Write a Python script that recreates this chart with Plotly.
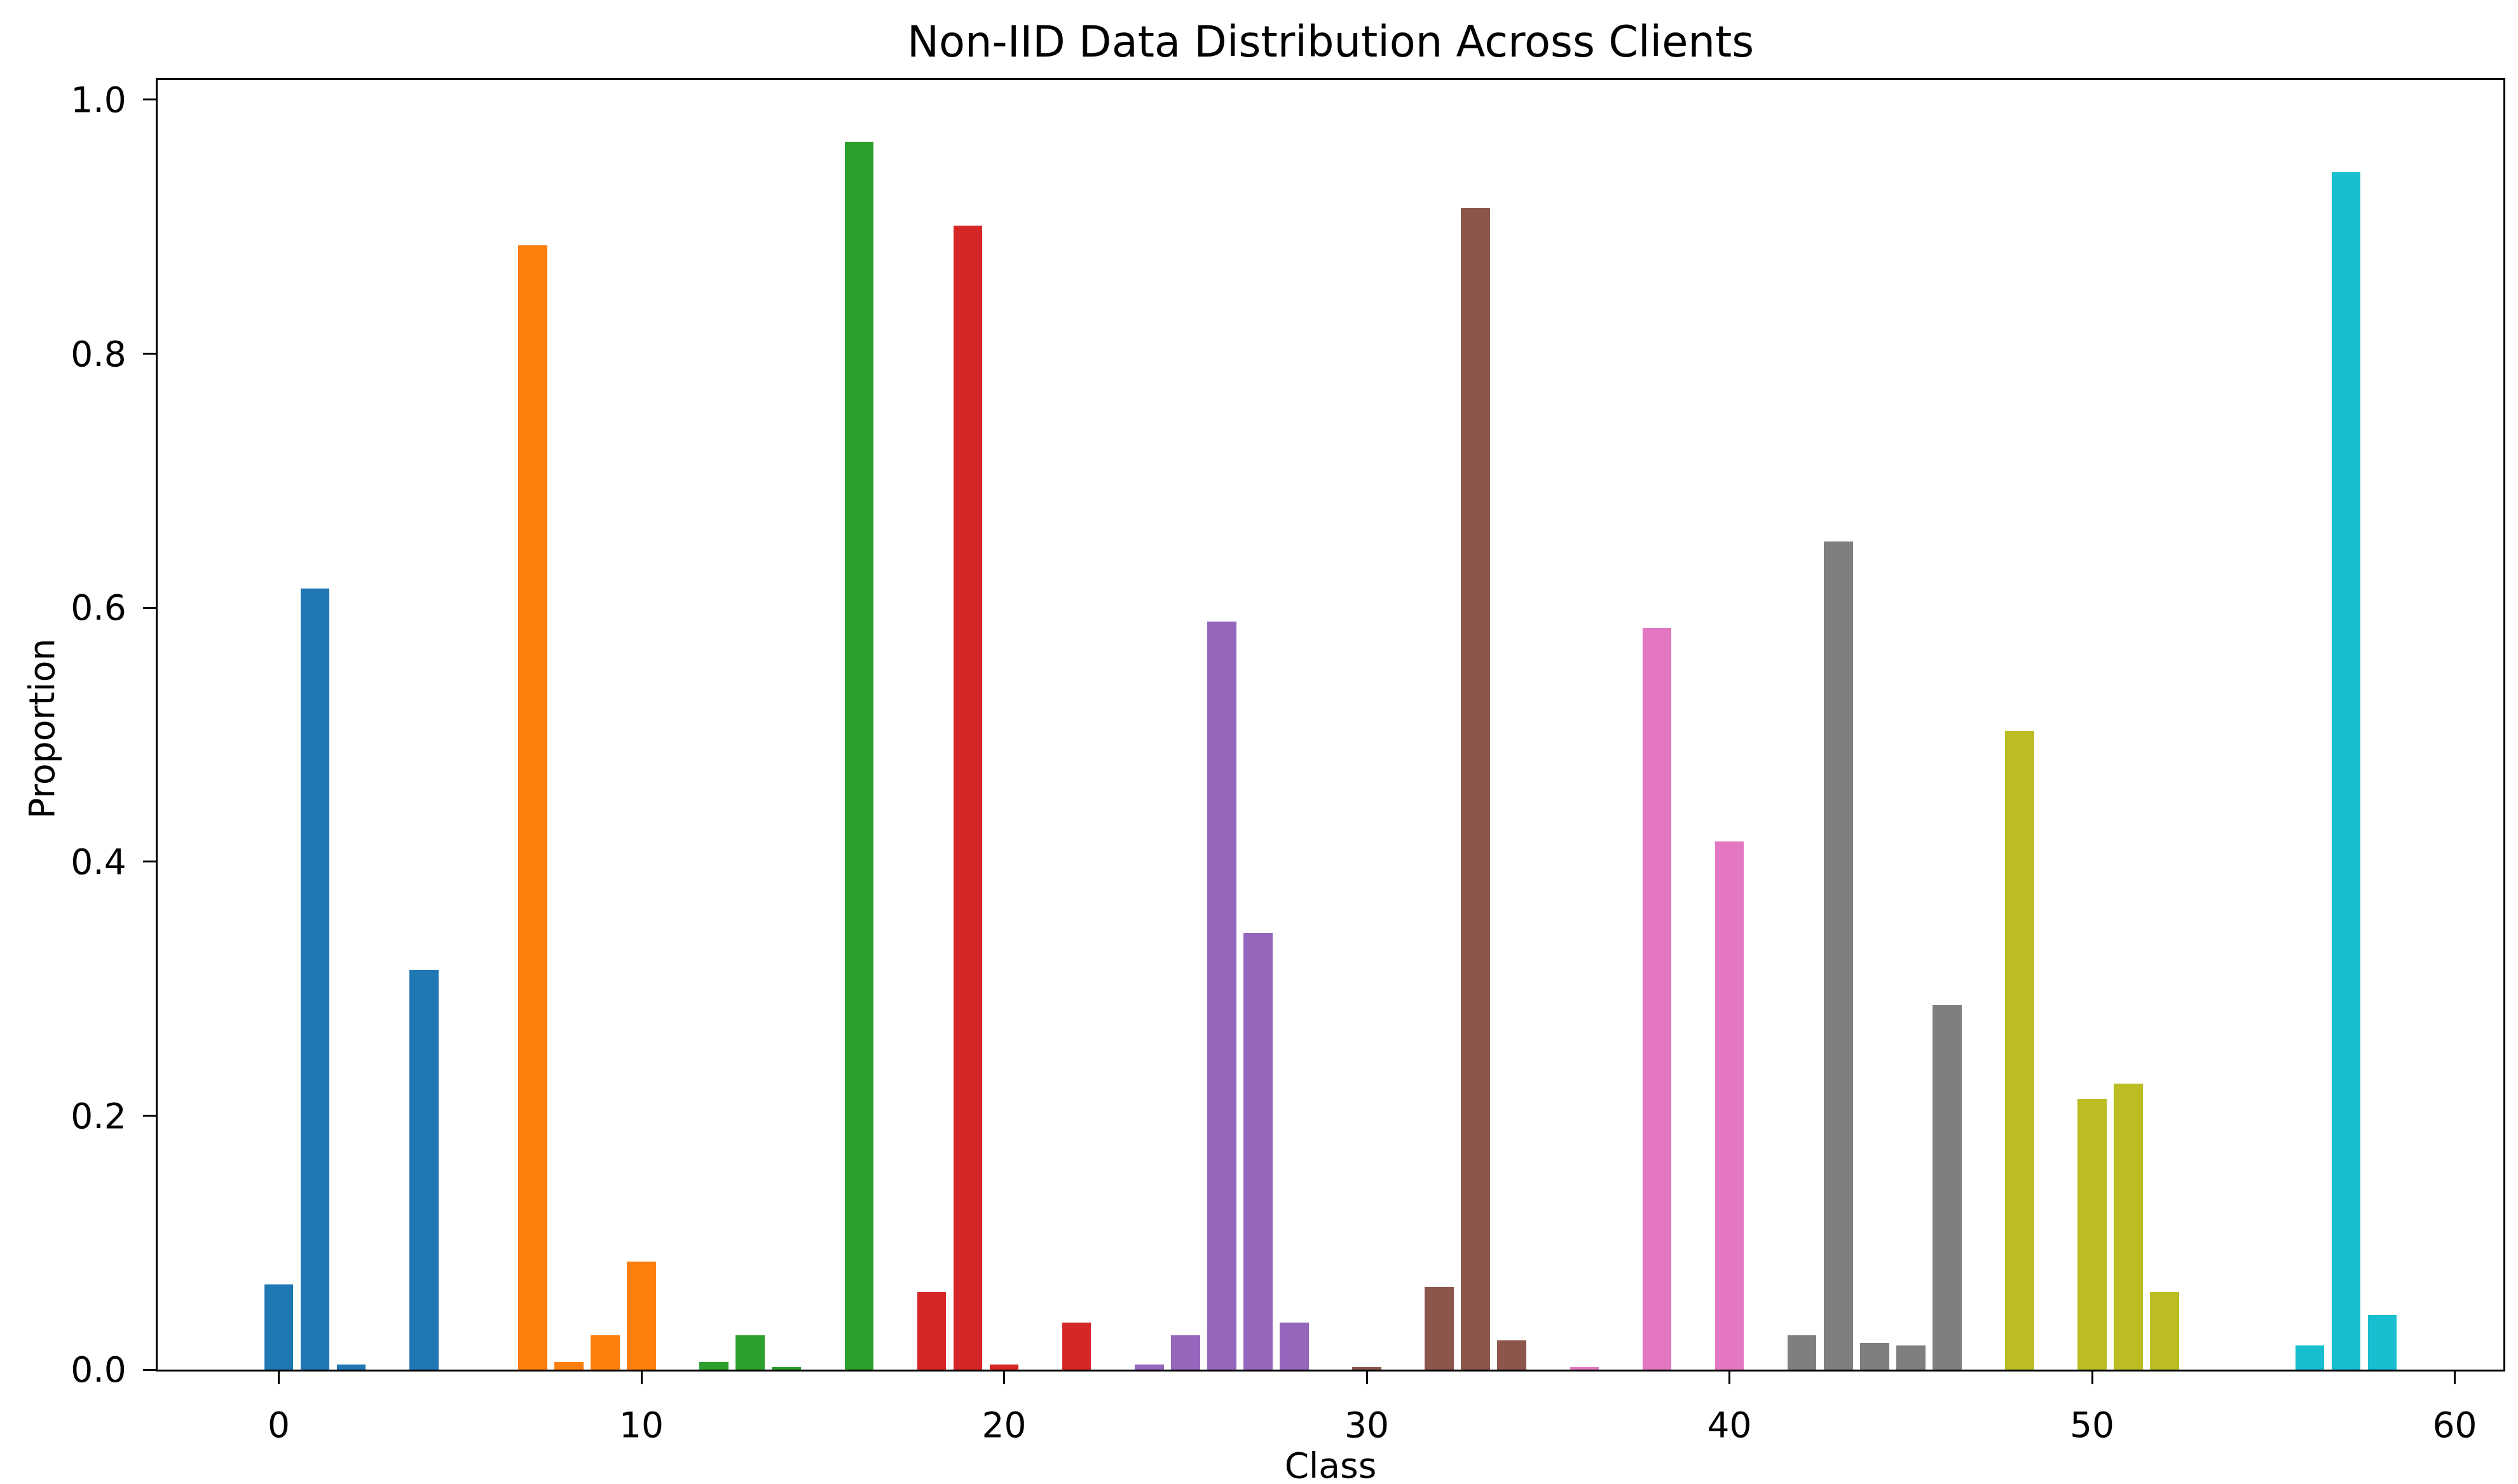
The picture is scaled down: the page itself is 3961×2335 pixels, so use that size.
import plotly.graph_objects as go

# ---- data ----
clients = ["Client 0", "Client 1", "Client 2", "Client 3", "Client 4",
           "Client 5", "Client 6", "Client 7", "Client 8", "Client 9"]
classes_per_client = 6
client_0 = [0.067, 0.615, 0.004, 0.0, 0.315, 0.0]
client_1 = [0.0, 0.885, 0.006, 0.027, 0.085, 0.0]
client_2 = [0.006, 0.027, 0.002, 0.0, 0.967, 0.0]
client_3 = [0.061, 0.901, 0.004, 0.0, 0.037, 0.0]
client_4 = [0.004, 0.027, 0.589, 0.344, 0.037, 0.0]
client_5 = [0.002, 0.0, 0.065, 0.915, 0.023, 0.0]
client_6 = [0.002, 0.0, 0.584, 0.0, 0.416, 0.0]
client_7 = [0.027, 0.652, 0.021, 0.019, 0.287, 0.0]
client_8 = [0.503, 0.0, 0.213, 0.225, 0.061, 0.0]
client_9 = [0.0, 0.0, 0.019, 0.943, 0.043, 0.0]
client_values = [client_0, client_1, client_2, client_3, client_4,
                 client_5, client_6, client_7, client_8, client_9]
x_ticks = [0, 10, 20, 30, 40, 50, 60]
y_ticks = [0.0, 0.2, 0.4, 0.6, 0.8, 1.0]

colors = ["#1f77b4", "#ff7f0e", "#2ca02c", "#d62728", "#9467bd",
          "#8c564b", "#e377c2", "#7f7f7f", "#bcbd22", "#17becf"]

W, H = 3961, 2335
L, R, T, B = 240, 31, 118, 188
FONT = "DejaVu Sans"
TICK_PX = 55
TITLE_PX = 67

fig = go.Figure()
for i, vals in enumerate(client_values):
    xs = [i * classes_per_client + j for j in range(len(vals))]
    fig.add_trace(go.Bar(
        x=xs, y=vals, width=0.8, name=clients[i],
        marker=dict(color=colors[i], line=dict(width=0)),
        showlegend=False,
    ))

ymax = max(max(v) for v in client_values) * 1.05
n = len(client_values) * classes_per_client
xlo, xhi = -0.4, (n - 2) + 0.4
pad = 0.05 * (xhi - xlo)

axis_common = dict(
    showline=True, linecolor="black", linewidth=3.4, mirror=True,
    ticks="outside", ticklen=20, tickwidth=3.4, tickcolor="black",
    showgrid=False, zeroline=False,
    tickfont=dict(family=FONT, size=TICK_PX, color="black"),
)

fig.update_layout(
    width=W, height=H,
    margin=dict(l=L, r=R, t=T, b=B, pad=0),
    paper_bgcolor="white", plot_bgcolor="white",
    bargap=0,
    title=dict(text="Non-IID Data Distribution Across Clients",
               font=dict(family=FONT, size=TITLE_PX, color="black"),
               x=(L + (W - L - R) / 2) / W, xanchor="center", xref="container",
               y=1 - 58 / H, yanchor="middle", yref="container"),
    xaxis=dict(range=[xlo - pad, xhi + pad], tickvals=x_ticks,
               ticklabelstandoff=17,
               title=dict(text="Class", standoff=0,
                          font=dict(family=FONT, size=TICK_PX, color="black")),
               **axis_common),
    yaxis=dict(range=[0, ymax], tickvals=y_ticks, tickformat=".1f",
               ticklabelstandoff=15, **axis_common),
    annotations=[
        dict(text="Proportion", xref="paper", yref="paper", x=0, y=0.5,
             xanchor="center", yanchor="middle", xshift=-183, yshift=-6,
             textangle=-90, showarrow=False,
             font=dict(family=FONT, size=TICK_PX, color="black")),
    ],
)

fig.write_html("out.html")
